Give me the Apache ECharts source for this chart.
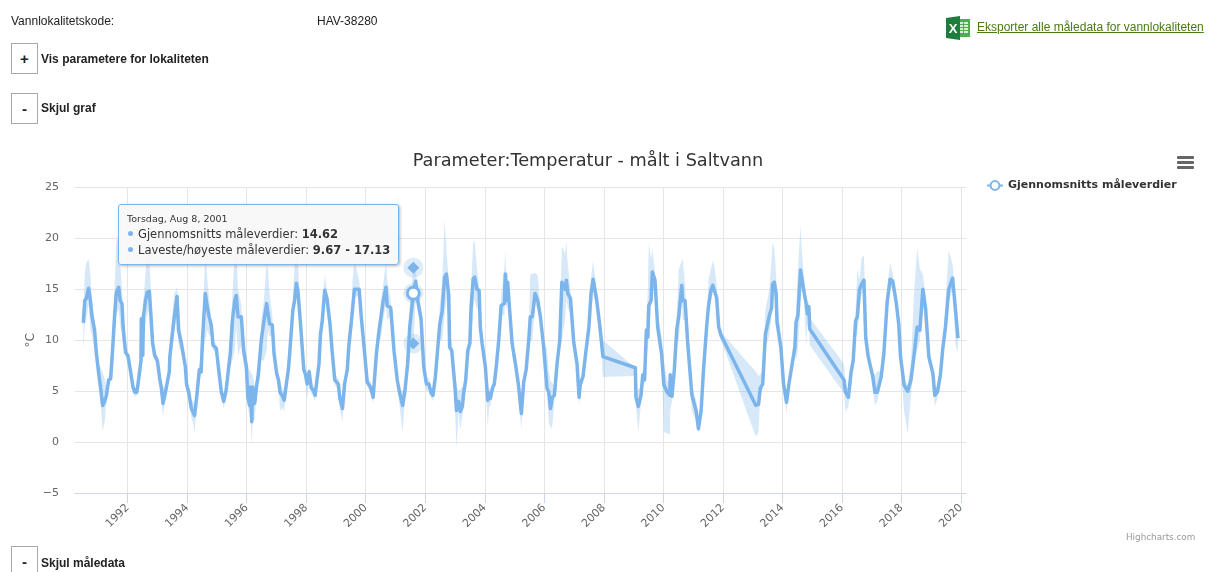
<!DOCTYPE html>
<html>
<head>
<meta charset="utf-8">
<title>Temperatur</title>
<script src="https://cdn.jsdelivr.net/npm/echarts@6/dist/echarts.min.js"></script>
<style>
  html, body { margin: 0; padding: 0; background: #fff; overflow: hidden; }
  #page { position: relative; width: 1213px; height: 572px; overflow: hidden; font-family: "Liberation Sans", Arial, sans-serif; font-size: 12px; color: #222; }
  #chart { position: absolute; left: 0; top: 0; width: 1213px; height: 572px; }
  .txt { position: absolute; white-space: nowrap; }
  .btn { position: absolute; left: 11px; width: 25px; height: 29px; border: 1px solid #a8a8a8; text-align: center; line-height: 29px; font-size: 15px; font-weight: bold; background: #fff; }
  .b { font-weight: bold; }
  a { color: #4a7a12; }
</style>
</head>
<body>
<div id="page">
  <div id="chart"></div>
  <div class="txt" style="left:11px;top:14px">Vannlokalitetskode:</div>
  <div class="txt" style="left:317px;top:14px">HAV-38280</div>
  <div class="btn" style="top:43px">+</div>
  <div class="txt b" style="left:41px;top:52px">Vis parametere for lokaliteten</div>
  <div class="btn" style="top:93px">-</div>
  <div class="txt b" style="left:41px;top:101px">Skjul graf</div>
  <div class="btn" style="top:546px">-</div>
  <div class="txt b" style="left:41px;top:556px">Skjul måledata</div>
  <svg style="position:absolute;left:946px;top:16px" width="24" height="24" viewBox="0 0 24 24">
    <rect x="8" y="3" width="16" height="18" fill="#4caf50"/>
    <g fill="#d5efd6">
      <rect x="14" y="6" width="3" height="2"/><rect x="18" y="6" width="4" height="2"/>
      <rect x="14" y="9" width="3" height="2"/><rect x="18" y="9" width="4" height="2"/>
      <rect x="14" y="12" width="3" height="2"/><rect x="18" y="12" width="4" height="2"/>
      <rect x="14" y="15" width="3" height="2"/><rect x="18" y="15" width="4" height="2"/>
    </g>
    <polygon points="0,2 14,0 14,24 0,22" fill="#1e7d3c"/>
    <text x="7" y="17" font-family="Liberation Sans" font-weight="bold" font-size="13" fill="#fff" text-anchor="middle">X</text>
  </svg>
  <div class="txt" style="left:977px;top:20px;font-size:12px"><a href="#">Eksporter alle måledata for vannlokaliteten</a></div>
  <svg style="position:absolute;left:1177px;top:156px" width="17" height="14">
    <rect y="0" width="17" height="3" rx="1" fill="#666"/>
    <rect y="5" width="17" height="3" rx="1" fill="#666"/>
    <rect y="10" width="17" height="3" rx="1" fill="#666"/>
  </svg>
</div>
<script>
const yearTicks = [1992, 1994, 1996, 1998, 2000, 2002, 2004, 2006, 2008, 2010, 2012, 2014, 2016, 2018, 2020]

// decimal years
const years = [
  1990.51,1990.56,1990.61,1990.69,1990.75,1990.80,1990.89,1990.95,1991.03,1991.09,1991.16,1991.23,1991.29,1991.36,1991.43,1991.50,1991.56,1991.62,1991.70,1991.75,1991.81,1991.85,1991.93,
  1992.01,1992.09,1992.18,1992.24,1992.31,1992.38,1992.45,1992.46,1992.51,1992.53,1992.60,1992.66,1992.73,1992.78,1992.84,1992.91,
  1993.00,1993.08,1993.13,1993.19,1993.27,1993.32,1993.40,1993.42,1993.49,1993.56,1993.66,1993.71,1993.80,1993.86,1993.94,1993.98,
  1994.06,1994.14,1994.19,1994.25,1994.32,1994.41,1994.47,1994.52,1994.61,1994.68,1994.74,1994.81,1994.87,1994.98,
  1995.06,1995.15,1995.23,1995.31,1995.38,1995.45,1995.52,1995.60,1995.65,1995.71,1995.82,1995.90,1995.99,
  1996.04,1996.10,1996.13,1996.17,1996.20,1996.27,1996.33,1996.39,1996.44,1996.49,1996.58,1996.67,1996.72,1996.77,1996.86,1996.92,
  1997.01,1997.07,1997.12,1997.19,1997.26,1997.32,1997.40,1997.44,1997.55,1997.61,1997.67,1997.72,1997.81,1997.92,1997.98,
  1998.03,1998.10,1998.17,1998.24,1998.30,1998.43,1998.48,1998.54,1998.62,1998.70,1998.80,1998.87,1998.96,
  1999.08,1999.13,1999.22,1999.29,1999.38,1999.44,1999.52,1999.56,1999.62,1999.78,1999.85,1999.94,
  2000.05,2000.16,2000.25,2000.36,2000.45,2000.51,2000.59,2000.68,2000.72,2000.84,2000.95,
  2001.06,2001.14,2001.24,2001.32,2001.41,2001.48,2001.60,2001.68,2001.75,2001.86,2001.95,
  2002.04,2002.12,2002.20,2002.26,2002.34,2002.42,2002.49,2002.57,2002.65,2002.71,2002.79,2002.82,2002.89,2002.96,
  2003.00,2003.05,2003.12,2003.18,2003.25,2003.29,2003.36,2003.43,2003.50,2003.54,2003.61,2003.66,2003.74,2003.81,2003.85,2003.91,
  2004.02,2004.10,2004.15,2004.19,2004.26,2004.32,2004.39,2004.47,2004.55,2004.66,2004.69,2004.73,2004.77,2004.82,2004.92,
  2005.03,2005.11,2005.14,2005.23,2005.31,2005.39,2005.48,2005.53,2005.60,2005.69,2005.78,2005.87,2005.98,
  2006.09,2006.15,2006.21,2006.27,2006.34,2006.43,2006.52,2006.59,2006.70,2006.74,2006.79,2006.88,2006.99,
  2007.10,2007.17,2007.21,2007.30,2007.39,2007.50,2007.57,2007.64,2007.75,2007.87,2007.97,
  2009.06,2009.08,2009.16,2009.25,2009.31,2009.37,2009.43,2009.48,2009.51,2009.59,2009.63,2009.72,2009.81,2009.94,
  2010.02,2010.13,2010.22,2010.23,2010.29,2010.37,2010.45,2010.52,2010.62,2010.65,2010.73,2010.82,2010.96,
  2011.10,2011.18,2011.27,2011.35,2011.46,2011.52,2011.60,2011.66,2011.72,2011.79,2011.86,2011.94,
  2013.11,2013.20,2013.26,2013.34,2013.43,2013.56,2013.64,2013.67,2013.73,2013.79,2013.82,2013.95,
  2014.04,2014.14,2014.22,2014.33,2014.42,2014.46,2014.52,2014.61,2014.66,2014.73,2014.80,2014.84,2014.89,2014.92,
  2016.07,2016.12,2016.22,2016.31,2016.38,2016.46,2016.52,2016.59,2016.66,2016.74,2016.80,2016.88,2016.96,
  2017.04,2017.11,2017.19,2017.32,2017.41,2017.52,2017.62,2017.71,2017.83,2017.91,2017.97,
  2018.09,2018.21,2018.32,2018.42,2018.53,2018.62,2018.72,2018.81,2018.92,
  2019.06,2019.12,2019.21,2019.31,2019.39,2019.48,2019.59,2019.72,2019.82,2019.90
]

const meanValues = [
  11.7,13.9,14.1,15.1,13.9,12.4,11.0,8.7,6.7,5.4,3.6,4.0,4.6,6.1,6.2,9.3,12.3,14.7,15.2,13.9,13.6,11.3,8.8,
  8.5,7.1,5.4,4.9,4.9,6.4,8.0,12.1,8.5,12.3,13.9,14.7,14.8,12.6,9.7,8.5,
  8.0,6.2,5.4,3.8,4.9,4.9,6.9,8.4,10.3,12.1,14.3,11.0,9.8,8.8,7.4,5.7,
  4.8,3.3,3.0,2.6,4.4,7.1,6.9,10.3,14.6,13.2,12.3,11.5,9.5,9.2,
  7.1,4.9,4.0,5.1,6.9,8.7,11.9,13.9,14.4,12.3,12.3,9.0,7.4,
  4.4,3.6,5.4,2.0,5.4,3.8,5.4,6.6,6.7,10.0,11.9,13.6,13.6,11.6,11.5,8.7,
  6.7,6.1,4.9,4.6,4.1,5.4,7.1,8.5,12.9,13.9,15.6,14.9,11.6,7.1,6.6,
  5.7,6.9,5.3,5.1,4.6,7.7,10.6,11.9,14.9,14.1,11.6,9.0,6.1,
  5.7,4.3,3.3,5.7,7.1,9.7,11.9,13.1,15.0,15.0,12.3,9.5,
  5.9,5.4,4.4,8.7,11.0,11.1,13.9,15.2,13.4,13.2,9.0,
  6.1,4.8,3.6,5.1,7.7,11.3,14.62,15.8,13.9,12.1,7.4,
  5.7,5.7,4.8,4.6,6.4,9.2,11.6,12.9,16.2,16.5,14.4,9.3,9.0,6.7,
  5.4,3.1,4.0,3.0,3.5,4.8,6.1,9.0,9.7,13.2,16.0,16.2,15.0,14.9,11.3,9.7,
  7.4,4.1,4.8,4.3,5.3,5.7,7.5,10.0,13.4,13.6,16.5,13.9,15.7,13.6,9.7,
  7.7,6.1,5.4,2.8,5.9,7.1,10.1,12.3,12.3,14.6,13.9,12.3,9.3,
  5.3,4.9,3.3,4.4,4.6,7.7,10.0,15.7,15.0,15.9,14.6,14.1,9.8,
  7.7,4.4,5.7,6.4,8.7,11.3,14.6,16.0,14.2,11.3,8.4,
  7.3,4.4,3.5,4.6,6.6,6.1,11.0,10.3,13.4,13.9,16.7,15.9,11.3,8.7,
  5.6,4.9,4.6,6.6,4.5,7.1,11.0,12.4,15.4,13.9,13.9,9.7,4.6,
  3.1,1.3,3.1,7.1,11.5,13.4,14.9,15.4,15.5,14.2,11.3,10.5,
  3.6,3.7,5.3,5.7,10.6,12.4,13.2,15.5,15.7,14.6,11.8,9.3,
  5.7,3.9,5.7,7.7,9.3,11.8,12.4,16.9,16.9,14.7,13.6,12.6,13.3,11.1,
  6.1,4.9,4.4,6.9,8.0,11.9,12.3,15.0,15.5,15.9,10.3,8.5,7.4,
  6.4,4.9,4.9,6.4,8.7,13.7,16.0,15.8,13.6,11.6,8.4,
  5.6,5.0,6.1,8.4,11.3,11.0,15.0,13.2,8.4,
  6.7,4.6,4.9,6.6,9.2,11.3,15.0,16.1,12.9,10.2
]

const lowValues = [
  9.0,11.5,12.0,13.5,11.0,10.5,9.0,8.0,5.5,4.0,1.1,2.0,4.0,5.5,5.8,8.0,10.5,12.5,13.0,11.5,10.5,9.5,8.4,
  8.0,6.6,5.0,4.4,4.6,5.9,7.5,8.0,8.2,10.0,11.5,12.5,13.0,11.0,8.6,8.0,
  7.6,5.6,4.2,2.5,4.4,4.6,6.4,7.4,9.0,10.5,12.5,9.5,8.8,8.0,6.6,5.0,
  4.0,2.4,2.0,0.9,3.6,6.4,6.4,8.5,10.0,11.0,10.5,10.5,9.0,8.8,
  6.6,4.4,3.3,4.5,6.4,7.5,8.0,9.0,11.5,8.5,9.5,7.5,6.8,
  3.5,2.5,3.5,-0.4,2.0,2.2,4.4,5.8,6.2,8.0,8.0,9.0,11.0,10.4,10.5,8.0,
  6.0,5.4,3.0,3.4,3.0,4.8,6.6,7.5,12.0,13.0,14.5,13.5,10.6,6.6,6.0,
  4.2,6.2,4.8,4.5,4.0,7.0,9.5,11.0,14.0,12.8,10.8,8.4,5.6,
  5.2,3.2,2.0,5.0,6.6,9.0,10.0,11.5,14.3,14.3,11.5,9.0,
  5.4,4.9,3.8,8.2,10.0,10.2,12.0,13.5,12.0,12.4,8.4,
  5.5,3.5,1.0,4.2,6.6,9.0,9.67,14.0,12.8,11.2,6.8,
  5.0,5.2,4.3,4.0,5.8,8.6,10.0,10.0,12.5,14.0,11.5,9.0,8.6,6.0,
  3.0,-0.6,3.0,1.2,2.6,4.0,5.6,8.4,8.8,9.5,13.0,14.0,13.0,13.5,10.5,9.0,
  6.8,1.5,3.5,3.6,4.8,5.2,6.9,9.4,12.5,12.4,14.5,13.0,14.0,12.5,8.5,
  7.2,5.5,4.8,1.2,5.4,6.6,9.0,10.0,10.0,13.5,13.0,11.5,8.8,
  4.8,2.0,1.3,1.6,4.0,7.0,9.0,10.0,12.0,14.0,13.2,12.5,9.2,
  7.2,3.5,5.0,5.8,8.2,10.5,13.0,14.5,13.4,10.6,6.4,
  6.5,3.5,1.0,3.8,6.0,5.6,9.5,8.8,11.5,13.0,15.5,14.5,10.5,8.0,
  1.0,0.9,0.7,3.0,4.0,6.5,9.5,10.0,14.0,12.0,12.0,8.5,3.0,
  2.2,0.9,2.8,6.5,10.5,12.5,14.0,14.6,15.0,13.0,10.5,10.0,
  0.5,1.0,4.8,5.2,9.2,10.5,12.5,14.0,14.5,13.0,11.0,8.6,
  5.0,2.8,5.2,7.0,8.8,8.0,9.0,13.5,15.5,13.8,9.5,11.5,11.5,9.5,
  4.8,3.0,3.5,6.4,7.5,10.5,10.5,13.0,14.5,14.8,9.0,8.0,6.8,
  5.2,3.6,4.0,5.8,8.0,12.8,15.0,15.2,13.0,11.0,7.8,
  3.0,0.8,4.5,7.8,9.0,10.0,13.5,11.5,7.8,
  6.0,3.5,4.3,6.0,8.6,10.0,13.8,15.0,9.5,8.8
]

const highValues = [
  12.5,16.5,17.6,18.0,16.5,14.0,12.0,9.5,7.6,7.4,6.8,6.2,5.2,6.6,7.0,11.5,15.0,19.5,20.5,17.5,15.0,12.5,9.3,
  9.0,7.6,6.0,5.3,5.4,7.0,9.0,13.0,10.0,14.0,16.5,19.0,18.0,15.0,11.5,9.0,
  8.5,7.0,6.0,5.4,5.5,5.4,7.4,9.5,12.0,14.5,15.2,14.0,10.6,9.5,8.0,6.2,
  5.4,4.2,4.0,3.8,5.0,7.8,7.5,12.0,18.5,16.0,14.0,12.0,10.0,9.6,
  7.5,5.4,4.6,5.6,7.4,10.5,14.5,18.5,19.5,15.0,13.5,10.5,8.5,
  7.5,7.0,7.0,6.6,6.6,5.5,6.2,7.2,7.5,12.0,14.0,17.5,17.0,14.5,12.5,9.5,
  7.2,6.7,6.0,5.4,4.8,5.8,7.5,9.4,14.0,17.5,19.5,18.0,12.5,7.8,7.2,
  6.4,7.5,5.8,5.6,5.2,8.4,11.8,13.0,16.4,15.0,12.4,9.6,6.6,
  6.2,5.0,4.4,6.2,7.6,10.4,13.0,16.0,17.8,16.0,13.0,10.0,
  6.4,5.9,5.0,9.3,12.0,14.0,15.5,17.8,16.0,14.0,9.8,
  6.7,5.4,5.0,5.8,9.5,13.5,17.13,17.0,15.0,12.8,8.0,
  6.2,6.3,5.4,5.2,7.0,10.0,13.5,15.5,21.8,19.0,16.0,10.0,10.0,8.0,
  7.0,5.5,5.0,5.2,5.4,5.4,6.7,9.7,10.5,15.0,19.5,19.8,17.0,15.5,12.2,10.4,
  8.0,5.0,5.4,5.0,5.8,6.2,8.0,10.8,14.5,17.0,18.8,16.0,16.8,14.6,10.4,
  8.2,6.6,6.0,4.0,6.4,7.6,11.0,16.5,16.5,16.6,16.4,13.0,9.8,
  9.2,7.0,6.0,5.8,5.4,8.4,11.0,19.2,18.5,19.7,17.5,15.0,10.5,
  8.2,5.0,6.2,7.0,9.4,12.5,16.0,17.8,15.0,12.0,10.0,
  7.3,5.0,5.2,5.4,7.2,6.7,11.6,15.0,19.5,18.0,19.0,16.7,12.4,10.5,
  8.0,6.0,6.0,7.0,5.0,7.8,12.5,17.0,17.8,18.0,15.5,10.5,5.4,
  4.2,2.4,4.2,7.8,12.4,16.0,17.0,17.8,17.2,15.5,12.0,10.8,
  6.9,6.5,6.6,7.2,13.0,15.0,18.0,19.6,19.0,16.5,14.0,10.0,
  6.4,4.8,6.2,8.6,10.8,13.0,16.8,21.3,18.5,16.2,14.2,13.5,13.8,12.2,
  7.7,6.0,5.0,7.6,9.0,13.0,17.0,16.0,18.0,18.4,11.5,9.2,7.8,
  6.8,6.6,6.9,7.0,9.4,15.0,17.6,16.5,14.4,12.2,9.0,
  6.2,5.6,7.8,14.4,19.1,17.0,16.5,14.5,9.2,
  7.4,5.4,5.5,7.2,9.8,13.5,18.8,17.5,14.0,10.8
]

// hovered point shown in the tooltip
const hoverYear = 2001.60
const hoverDate = 'Torsdag, Aug 8, 2001'
const hoverMean = 14.62
const hoverLow = 9.67
const hoverHigh = 17.13

const blue = '#7cb5ec'
const meanName = 'Gjennomsnitts måleverdier'
const rangeName = 'Laveste/høyeste måleverdier'
const chartFont = '"DejaVu Sans", sans-serif'

const myChart = echarts.init(document.getElementById('chart'), null, { renderer: 'canvas' })

function dot() {
  return '<span style="display:inline-block;width:5px;height:5px;border-radius:50%;background:' + blue + ';margin:0 5px 2px 1px"></span>'
}

// the band is one polygon, segments would leave seams where they overlap
function renderBand(params, api) {
  if (params.dataIndex != 0) {
    return null
  }
  const upper = years.map((y, i) => api.coord([y, highValues[i]]))
  const lower = years.map((y, i) => api.coord([y, lowValues[i]])).reverse()
  return {
    type: 'polygon',
    shape: { points: upper.concat(lower) },
    style: { fill: blue, opacity: 0.3 }
  }
}

const options = {
  animation: false,
  textStyle: { fontFamily: chartFont },
  title: {
    text: 'Parameter:Temperatur - målt i Saltvann',
    left: 583,
    top: 147,
    textAlign: 'center',
    textStyle: { fontFamily: chartFont, fontSize: 17.7, fontWeight: 'normal', color: '#333' }
  },
  legend: {
    data: [meanName],
    left: 981,
    top: 175,
    itemWidth: 16,
    itemHeight: 11,
    textStyle: { fontFamily: chartFont, fontSize: 11, fontWeight: 'bold', color: '#333' }
  },
  tooltip: {
    trigger: 'item',
    alwaysShowContent: true,
    showDelay: 0,
    transitionDuration: 0,
    position: [118, 204],
    padding: [7, 8, 6, 8],
    backgroundColor: 'rgba(247,247,247,0.9)',
    borderColor: blue,
    borderWidth: 1.5,
    borderRadius: 3,
    extraCssText: 'box-shadow:1px 1px 3px rgba(0,0,0,.3);',
    textStyle: { fontFamily: chartFont, fontSize: 11.5, color: '#333' },
    formatter: function() {
      return '<div style="font-size:9.5px;line-height:14px">' + hoverDate + '</div>'
        + '<div style="line-height:16px">' + dot() + meanName + ': <b>' + hoverMean + '</b></div>'
        + '<div style="line-height:16px">' + dot() + rangeName + ': <b>' + hoverLow + ' - ' + hoverHigh + '</b></div>'
    }
  },
  grid: { left: 75, right: 247, top: 187.5, bottom: 79 },
  xAxis: {
    type: 'value',
    min: 1990.232,
    max: 2020.17,
    axisLine: { show: true, onZero: false, lineStyle: { color: '#ccd6eb' } },
    axisTick: { show: true, length: 10, customValues: yearTicks, lineStyle: { color: '#ccd6eb' } },
    axisLabel: { customValues: yearTicks, rotate: 45, color: '#666', fontSize: 11, margin: 13, formatter: function(v) { return String(v) } },
    splitLine: { show: true, lineStyle: { color: '#e6e6e6' } }
  },
  yAxis: {
    type: 'value',
    min: -5,
    max: 25,
    interval: 5,
    name: '°C',
    nameLocation: 'middle',
    nameGap: 38,
    nameMoveOverlap: false,
    nameTextStyle: { color: '#666', fontSize: 12 },
    axisLine: { show: false },
    axisTick: { show: false },
    axisLabel: { color: '#666', fontSize: 11, margin: 16, formatter: function(v) { return String(v).replace('-', '\u2212') } },
    splitLine: { lineStyle: { color: '#e6e6e6' } }
  },
  series: [{
    name: rangeName,
    type: 'custom',
    silent: true,
    tooltip: { show: false },
    renderItem: renderBand,
    encode: { x: 0, y: [1, 2] },
    data: years.map((y, i) => [y, lowValues[i], highValues[i]])
  }, {
    name: meanName,
    type: 'line',
    symbol: 'circle',
    showSymbol: false,
    silent: true,
    tooltip: { show: false },
    itemStyle: { color: '#fff', borderColor: blue, borderWidth: 2 },
    lineStyle: { color: blue, width: 3.5, join: 'round' },
    data: years.map((y, i) => [y, meanValues[i]])
  }, {
    name: 'halo',
    type: 'scatter',
    z: 3,
    silent: true,
    tooltip: { show: false },
    symbol: 'circle',
    symbolSize: 20,
    itemStyle: { color: blue, opacity: 0.25 },
    data: [[hoverYear, hoverHigh], [hoverYear, hoverMean], [hoverYear, hoverLow]]
  }, {
    name: 'hoverRange',
    type: 'scatter',
    z: 4,
    silent: true,
    tooltip: { show: false },
    symbol: 'diamond',
    symbolSize: 12,
    itemStyle: { color: blue, opacity: 1 },
    data: [[hoverYear, hoverHigh], [hoverYear, hoverLow]]
  }, {
    name: 'hoverMean',
    type: 'scatter',
    z: 5,
    symbol: 'circle',
    symbolSize: 12,
    itemStyle: { color: '#fff', borderColor: blue, borderWidth: 3, opacity: 1 },
    data: [[hoverYear, hoverMean]]
  }],
  graphic: [{
    type: 'text',
    left: 1126,
    top: 533,
    style: { text: 'Highcharts.com', fill: '#999', font: '8.8px "DejaVu Sans"' }
  }]
}

myChart.setOption(options)
myChart.dispatchAction({ type: 'showTip', seriesIndex: 4, dataIndex: 0 })
</script>
</body>
</html>
